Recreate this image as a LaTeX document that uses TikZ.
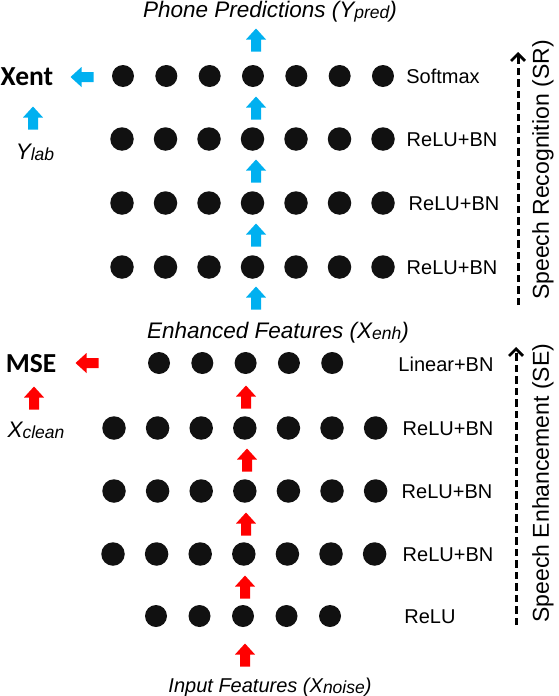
\documentclass[tikz,border=0pt]{standalone}
\usepackage{fontspec}
\usepackage{graphicx}
\setmainfont{Liberation Sans}
\newfontfamily\calibrifont{Carlito}
\usetikzlibrary{arrows.meta}
\definecolor{arrblue}{HTML}{00B0F0}
\definecolor{arrred}{HTML}{FF0000}
\definecolor{dotc}{HTML}{111111}
\newcommand\lowsub[1]{\raisebox{-1pt}{\fontsize{17.5}{18}\selectfont #1}}
\begin{document}
\begin{tikzpicture}[x=1pt,y=-1pt,
  dot/.style={circle, fill=dotc, inner sep=0pt, minimum size=22pt},
  bigdot/.style={dot, minimum size=23.5pt},
  layerlbl/.style={font=\fontsize{20}{22}\selectfont, anchor=base, inner sep=0pt},
  ital/.style={font=\itshape\fontsize{22.5}{24}\selectfont, anchor=base, inner sep=0pt},
  lossl/.style={font=\calibrifont\bfseries\fontsize{27.5}{29}\selectfont, anchor=base, inner sep=0pt},
  sidelbl/.style={font=\fontsize{23}{24}\selectfont, rotate=90, inner sep=0pt},
  dasharr/.style={line width=3pt, dash pattern=on 7.5pt off 4pt,
    -{Straight Barb[length=7pt,width=14pt,line width=2.8pt]}},
  uparr/.pic={\fill (0,-11.5) -- (10,-0.5) -- (5,-0.5) -- (5,11.5) -- (-5,11.5) -- (-5,-0.5) -- (-10,-0.5) -- cycle;},
  leftarr/.pic={\fill (-11.5,0) -- (-0.5,-10) -- (-0.5,-5) -- (11.5,-5) -- (11.5,5) -- (-0.5,5) -- (-0.5,10) -- cycle;}
]
\useasboundingbox (0,0) rectangle (558,696);

% ---------- Speech recognition block ----------
\foreach \i in {0,...,6} {
  \node[dot] (sr1-\i) at ({123+43.33*\i},76) {};
  \node[bigdot] (sr2-\i) at ({122+43.5*\i},139) {};
  \node[bigdot] (sr3-\i) at ({122+43.5*\i},203) {};
  \node[bigdot] (sr4-\i) at ({122+43.5*\i},267) {};
}
\node[layerlbl] (lsr1) at (443,83) {Softmax};
\node[layerlbl] (lsr2) at (452,146) {ReLU+BN};
\node[layerlbl] (lsr3) at (454,210) {ReLU+BN};
\node[layerlbl] (lsr4) at (452,274) {ReLU+BN};

\pic[arrblue] (ba0) at (256,40) {uparr};
\pic[arrblue] (ba1) at (256,108) {uparr};
\pic[arrblue] (ba2) at (256,171) {uparr};
\pic[arrblue] (ba3) at (256,235) {uparr};
\pic[arrblue] (ba4) at (256,298) {uparr};
\pic[arrblue] (bal) at (82,77) {leftarr};
\pic[arrblue] (bay) at (33,118) {uparr};

\node[ital] (ypred) at (270,17) {Phone Predictions (Y\lowsub{pred})};
\node[lossl] (xent) at (27,85) {Xent};
\node[ital] (ylab) at (35,159) {Y\lowsub{lab}};

\coordinate (srb) at (518,305);
\coordinate (srt) at (518,52);
\draw[dasharr] (srb) -- (srt);
\node[sidelbl] (srl) at (543,170) {Speech Recognition (SR)};

% ---------- Speech enhancement block ----------
\node[ital] (xenh) at (278,338) {Enhanced Features (X\lowsub{enh})};

\foreach \i in {0,...,4} {
  \node[dot] (se1-\i) at ({159+43.3*\i},363) {};
  \node[dot] (se5-\i) at ({156+43.5*\i},616) {};
}
\foreach \i in {0,...,6} {
  \node[bigdot] (se2-\i) at ({114+43.6*\i},428) {};
  \node[bigdot] (se3-\i) at ({114+43.6*\i},491) {};
  \node[bigdot] (se4-\i) at ({113+43.6*\i},554) {};
}
\node[layerlbl] (lse1) at (446,371) {Linear+BN};
\node[layerlbl] (lse2) at (448,435) {ReLU+BN};
\node[layerlbl] (lse3) at (447,498) {ReLU+BN};
\node[layerlbl] (lse4) at (448,561) {ReLU+BN};
\node[layerlbl] (lse5) at (430,623) {ReLU};

\pic[arrred] (ra1) at (246,397) {uparr};
\pic[arrred] (ra2) at (247,460) {uparr};
\pic[arrred] (ra3) at (246,524) {uparr};
\pic[arrred] (ra4) at (245,587) {uparr};
\pic[arrred] (ra5) at (245,655) {uparr};
\pic[arrred] (ral) at (87,363) {leftarr};
\pic[arrred] (ray) at (34,398) {uparr};

\node[lossl] (mse) at (31,372) {MSE};
\node[ital] (xclean) at (36,437) {X\lowsub{clean}};

\coordinate (seb) at (516,625);
\coordinate (set) at (516,347);
\draw[dasharr] (seb) -- (set);
\node[sidelbl] (sel) at (543,483) {Speech Enhancement (SE)};

\node[ital, font=\itshape\fontsize{20}{22}\selectfont] (xnoise) at (270,692) {Input Features (X\lowsub{noise})};
\end{tikzpicture}
\end{document}
